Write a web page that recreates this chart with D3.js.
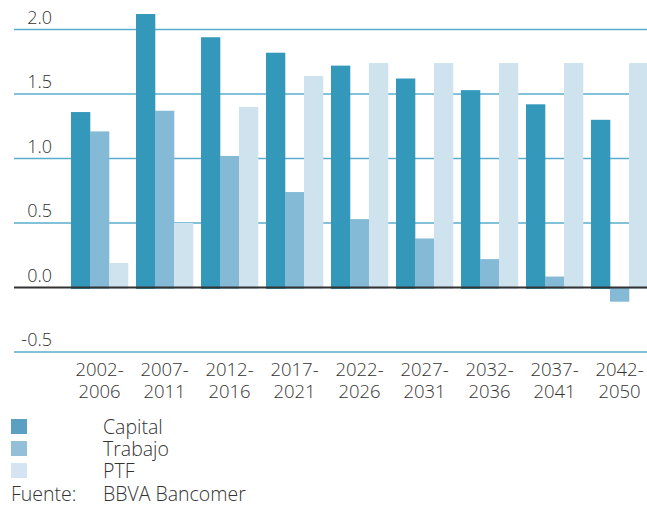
<!DOCTYPE html>
<html>
<head>
<meta charset="utf-8">
<script src="https://cdn.jsdelivr.net/npm/d3@7"></script>
<style>
  body { margin: 0; background: #fff; }
  text { font-family: "Open Sans", sans-serif; font-weight: 300; fill: #333; }
</style>
</head>
<body>
<div class="root"></div>
<script>
const categories = [
  ['2002-', '2006'], ['2007-', '2011'], ['2012-', '2016'], ['2017-', '2021'],
  ['2022-', '2026'], ['2027-', '2031'], ['2032-', '2036'], ['2037-', '2041'], ['2042-', '2050']
];
const series = ['Capital', 'Trabajo', 'PTF'];
const capital = [1.36, 2.12, 1.94, 1.82, 1.72, 1.62, 1.53, 1.42, 1.30];
const trabajo = [1.21, 1.37, 1.02, 0.74, 0.53, 0.38, 0.22, 0.085, -0.11];
const ptf = [0.19, 0.50, 1.40, 1.64, 1.74, 1.74, 1.74, 1.74, 1.74];
const yTicks = [-0.5, 0.0, 0.5, 1.0, 1.5, 2.0];
const source = ['Fuente:', 'BBVA Bancomer'];

const colors = ['#3398ba', '#84bad6', '#cfe3ee'];
const legendColors = ['#5b9fc2', '#94bfd8', '#d4e4f0'];

const width = 647, height = 508;
const svg = d3.select('.root').append('svg')
  .attr('width', width)
  .attr('height', height);

const keys = categories.map(c => c.join(''));
const values = [capital, trabajo, ptf];

const x = d3.scaleBand()
  .domain(keys)
  .range([71, 648])
  .paddingInner(8 / 65)
  .paddingOuter(0);

const xs = d3.scaleBand()
  .domain(series)
  .range([0, x.bandwidth()]);

const y = d3.scaleLinear()
  .domain([-0.5, 2.0])
  .range([352, 29.5]);

// gridlines
svg.append('g')
  .selectAll('line')
  .data(yTicks.filter(d => d !== 0))
  .enter()
  .append('line')
  .attr('x1', 14)
  .attr('x2', width)
  .attr('y1', d => y(d))
  .attr('y2', d => y(d))
  .attr('stroke', '#5aaccc')
  .attr('stroke-width', 1.5);

// bars
const grp = svg.append('g')
  .selectAll('g')
  .data(keys)
  .enter()
  .append('g')
  .attr('transform', d => `translate(${x(d)},0)`);

grp.selectAll('rect')
  .data((d, i) => series.map((s, j) => ({ s, v: values[j][i] })))
  .enter()
  .append('rect')
  .attr('x', d => xs(d.s))
  .attr('width', xs.bandwidth() + 0.3)
  .attr('y', d => d.v >= 0 ? y(d.v) : y(0))
  .attr('height', d => Math.abs(y(d.v) - y(0)) + (d.v >= 0 ? 1.5 : 0))
  .attr('fill', d => colors[series.indexOf(d.s)]);

// zero line
svg.append('line')
  .attr('x1', 14)
  .attr('x2', width)
  .attr('y1', y(0))
  .attr('y2', y(0))
  .attr('stroke', '#333')
  .attr('stroke-width', 2);

// y labels
svg.append('g')
  .selectAll('text')
  .data(yTicks)
  .enter()
  .append('text')
  .attr('x', 52)
  .attr('y', d => y(d) - 6)
  .attr('text-anchor', 'end')
  .attr('font-size', 18)
  .text(d => d.toFixed(1));

// x labels
const xl = svg.append('g')
  .selectAll('text')
  .data(categories)
  .enter()
  .append('text')
  .attr('text-anchor', 'middle')
  .attr('font-size', 18.5)
  .attr('x', d => x(d.join('')) + x.bandwidth() / 2);
xl.append('tspan').attr('y', 375.5).text(d => d[0]);
xl.append('tspan').attr('y', 397.5)
  .attr('x', d => x(d.join('')) + x.bandwidth() / 2)
  .text(d => d[1]);

// legend
const lg = svg.append('g')
  .selectAll('g')
  .data(series)
  .enter()
  .append('g')
  .attr('transform', (d, i) => `translate(11, ${419 + i * 22})`);
lg.append('rect')
  .attr('width', 16)
  .attr('height', 15)
  .attr('fill', (d, i) => legendColors[i]);
lg.append('text')
  .attr('x', 92)
  .attr('y', 15)
  .attr('font-size', 19.5)
  .text(d => d);

svg.append('text')
  .attr('x', 11)
  .attr('y', 501)
  .attr('font-size', 19.5)
  .text(source[0]);
svg.append('text')
  .attr('x', 103)
  .attr('y', 501)
  .attr('font-size', 19.5)
  .text(source[1]);
</script>
</body>
</html>
